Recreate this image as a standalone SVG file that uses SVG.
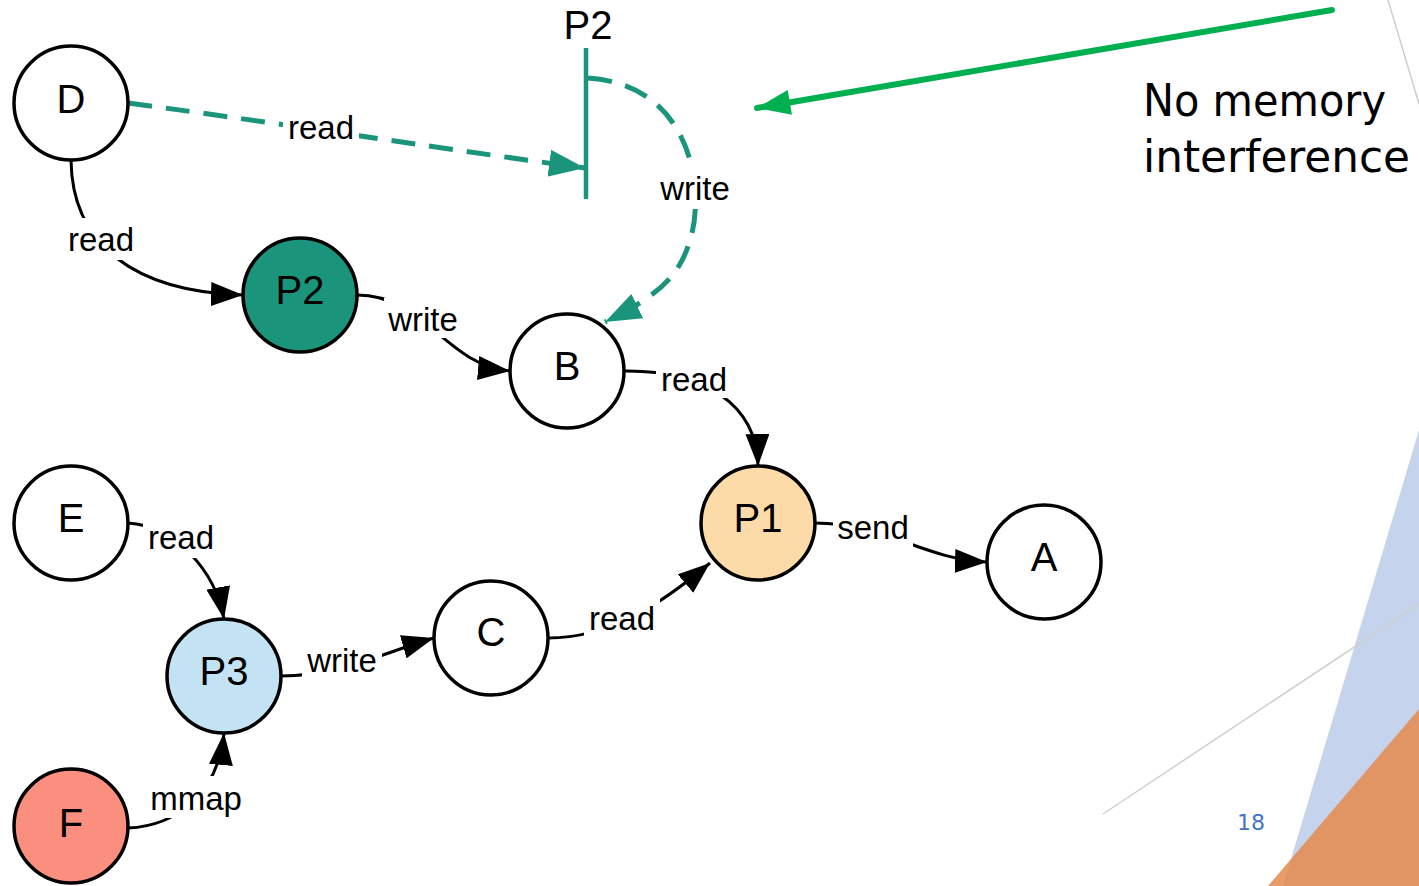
<svg xmlns="http://www.w3.org/2000/svg" width="1419" height="886" viewBox="0 0 1419 886">
  <style>
    .node circle { stroke: #000; stroke-width: 3.5; }
    .nlabel { font-family: "Liberation Sans", Arial, sans-serif; font-size: 40px; text-anchor: middle; dominant-baseline: central; fill: #000; }
    .edge { fill: none; stroke: #000; stroke-width: 3; }
    .dedge { fill: none; stroke: #1a957c; stroke-width: 5; stroke-dasharray: 24 14; }
    .elabel { font-family: "Liberation Sans", Arial, sans-serif; font-size: 33px; text-anchor: middle; dominant-baseline: central; fill: #000; }
    .lbg { fill: #fff; }
    .deco { stroke: #cfcfcf; stroke-width: 1.5; fill: none; }
  </style>
  <defs>
    <marker id="ahb" viewBox="0 0 12 9" refX="12" refY="4.5" markerWidth="32" markerHeight="24" markerUnits="userSpaceOnUse" orient="auto">
      <path d="M0,0 L12,4.5 L0,9 z" fill="#000"/>
    </marker>
    <marker id="aht" viewBox="0 0 12 9" refX="12" refY="4.5" markerWidth="36" markerHeight="27" markerUnits="userSpaceOnUse" orient="auto">
      <path d="M0,0 L12,4.5 L0,9 z" fill="#1a957c"/>
    </marker>
    <marker id="ahg" viewBox="0 0 12 9" refX="12" refY="4.5" markerWidth="34" markerHeight="25" markerUnits="userSpaceOnUse" orient="auto">
      <path d="M0,0 L12,4.5 L0,9 z" fill="#00b050"/>
    </marker>
  </defs>

  <rect width="1419" height="886" fill="#fff"/>

  <!-- slide decoration -->
  <g id="decoration">
    <polygon points="1419,430 1283,886 1419,886" fill="#c5d3ec"/>
    <polygon points="1419,709 1268,886 1419,886" fill="#e58a4e" opacity="0.85"/>
    <line class="deco" x1="1388" y1="0" x2="1419" y2="104"/>
    <line class="deco" x1="1103" y1="814" x2="1419" y2="604"/>
    <text x="1251" y="822" font-family="'DejaVu Sans', Verdana, sans-serif" font-size="22" fill="#4472c4" text-anchor="middle" dominant-baseline="central">18</text>
  </g>

  <!-- connectors -->
  <g id="connectors">
    <path class="edge" d="M71,160 C72,245 135,292 243,295" marker-end="url(#ahb)"/>
    <path class="edge" d="M357,295 C425,295 445,365 510,371" marker-end="url(#ahb)"/>
    <path class="edge" d="M624,371 C705,370 757,405 758,466" marker-end="url(#ahb)"/>
    <path class="edge" d="M128,523 C175,526 215,570 224,619" marker-end="url(#ahb)"/>
    <path class="edge" d="M128,828 C175,826 218,795 224,733" marker-end="url(#ahb)"/>
    <path class="edge" d="M281,676 C340,676 385,652 434,638" marker-end="url(#ahb)"/>
    <path class="edge" d="M548,638 C610,638 660,605 710,563" marker-end="url(#ahb)"/>
    <path class="edge" d="M815,523 C885,523 925,560 987,562" marker-end="url(#ahb)"/>

    <!-- dashed -->
    <path class="dedge" d="M128,103 C300,126 450,150 585,168" marker-end="url(#aht)"/>
    <path class="dedge" d="M588,78 C695,85 705,195 690,240 C680,275 660,295 605,322" marker-end="url(#aht)"/>
    <line x1="586" y1="48" x2="586" y2="199" stroke="#1a957c" stroke-width="4.5"/>

    <!-- green callout arrow -->
    <line x1="1332" y1="10" x2="757" y2="108" stroke="#00b050" stroke-width="6" stroke-linecap="round" marker-end="url(#ahg)"/>

    <!-- edge labels -->
    <rect class="lbg" x="62" y="218" width="78" height="42"/>
    <text class="elabel" x="101" y="239">read</text>
    <rect class="lbg" x="384" y="298" width="80" height="40"/>
    <text class="elabel" x="423" y="319">write</text>
    <rect class="lbg" x="656" y="358" width="76" height="40"/>
    <text class="elabel" x="694" y="379">read</text>
    <rect class="lbg" x="143" y="516" width="76" height="42"/>
    <text class="elabel" x="181" y="537">read</text>
    <rect class="lbg" x="146" y="776" width="102" height="42"/>
    <text class="elabel" x="196" y="798">mmap</text>
    <rect class="lbg" x="302" y="639" width="80" height="42"/>
    <text class="elabel" x="342" y="660">write</text>
    <rect class="lbg" x="584" y="597" width="76" height="42"/>
    <text class="elabel" x="622" y="618">read</text>
    <rect class="lbg" x="833" y="506" width="80" height="42"/>
    <text class="elabel" x="873" y="527">send</text>
    <rect class="lbg" x="283" y="106" width="76" height="42"/>
    <text class="elabel" x="321" y="127">read</text>
    <rect class="lbg" x="654" y="165" width="82" height="44"/>
    <text class="elabel" x="695" y="188">write</text>

    <text class="nlabel" x="588" y="25">P2</text>
  </g>

  <!-- nodes -->
  <g id="node-D" class="node"><circle cx="71" cy="103" r="57" fill="#fff"/><text class="nlabel" x="71" y="99">D</text></g>
  <g id="node-P2" class="node"><circle cx="300" cy="295" r="57" fill="#1a957c"/><text class="nlabel" x="300" y="290">P2</text></g>
  <g id="node-B" class="node"><circle cx="567" cy="371" r="57" fill="#fff"/><text class="nlabel" x="567" y="366">B</text></g>
  <g id="node-E" class="node"><circle cx="71" cy="523" r="57" fill="#fff"/><text class="nlabel" x="71" y="518">E</text></g>
  <g id="node-P3" class="node"><circle cx="224" cy="676" r="57" fill="#c3e3f5"/><text class="nlabel" x="224" y="671">P3</text></g>
  <g id="node-C" class="node"><circle cx="491" cy="638" r="57" fill="#fff"/><text class="nlabel" x="491" y="632">C</text></g>
  <g id="node-P1" class="node"><circle cx="758" cy="523" r="57" fill="#fddba9"/><text class="nlabel" x="758" y="518">P1</text></g>
  <g id="node-A" class="node"><circle cx="1044" cy="562" r="57" fill="#fff"/><text class="nlabel" x="1044" y="557">A</text></g>
  <g id="node-F" class="node"><circle cx="71" cy="826" r="57" fill="#fb8f7f"/><text class="nlabel" x="71" y="823">F</text></g>

  <!-- callout text -->
  <g id="callout" font-family="'DejaVu Sans', Verdana, sans-serif" font-size="45" fill="#000">
    <text x="1143" y="116" textLength="243" lengthAdjust="spacingAndGlyphs">No memory</text>
    <text x="1143" y="172" textLength="267" lengthAdjust="spacingAndGlyphs">interference</text>
  </g>
</svg>
